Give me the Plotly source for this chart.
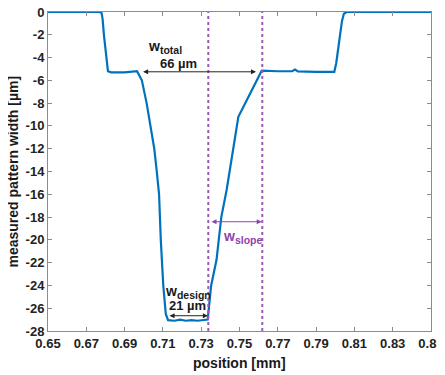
import plotly.graph_objects as go

# measured profile (position in mm, width in µm)
pos = [0.650, 0.677, 0.678, 0.6785, 0.6792, 0.6803, 0.6813, 0.683, 0.690, 0.6965,
       0.699, 0.7015, 0.7036, 0.7055, 0.7068, 0.708, 0.7089, 0.7102, 0.7115, 0.7127,
       0.716, 0.719, 0.722, 0.725, 0.728, 0.731, 0.7334,
       0.7352, 0.738, 0.7405, 0.7433, 0.7494, 0.7538, 0.7616,
       0.770, 0.7775, 0.779, 0.7805, 0.790, 0.7995, 0.8005, 0.802, 0.8035, 0.8045, 0.806, 0.850]
width = [0.0, 0.0, -0.1, -0.6, -2.0, -4.0, -5.2, -5.3, -5.3, -5.2,
         -6.0, -8.0, -10.0, -12.0, -14.0, -16.0, -20.0, -24.0, -26.5, -27.05,
         -27.1, -27.0, -27.1, -27.05, -27.1, -27.05, -27.0,
         -24.0, -21.75, -18.0, -15.6, -9.2, -7.7, -5.15,
         -5.2, -5.2, -5.05, -5.22, -5.25, -5.25, -4.5, -2.5, -0.8, -0.15, 0.0, 0.0]

x_ticks = [0.65, 0.67, 0.69, 0.71, 0.73, 0.75, 0.77, 0.79, 0.81, 0.83, 0.85]
y_ticks = list(range(0, -29, -2))

markers = [0.7337, 0.7619]          # purple dotted lines
total_span = [0.6989, 0.7586, -5.25]
design_span = [0.7127, 0.7335, -26.66]
slope_span = [0.7346, 0.7616, -18.41]

FONT = "Liberation Sans, Arial, sans-serif"
BLUE = "#0072BD"
PURPLE = "#8E44AD"
AX = "#8c8c8c"

fig = go.Figure()
fig.add_trace(go.Scatter(x=pos, y=width, mode="lines",
                         line=dict(color=BLUE, width=2.2), showlegend=False))

for m in markers:
    fig.add_shape(type="line", x0=m, x1=m, y0=-28, y1=0, xref="x", yref="y",
                  line=dict(color="#9b59b6", width=2, dash="dot"))

def dbl_arrow(x0, x1, y, color):
    fig.add_annotation(x=x1, y=y, ax=x0, ay=y, xref="x", yref="y", axref="x", ayref="y",
                       text="", showarrow=True, arrowhead=2, startarrowhead=2,
                       arrowside="end+start", arrowsize=1.0, startarrowsize=1.0,
                       arrowwidth=1, arrowcolor=color)

dbl_arrow(total_span[0], total_span[1], total_span[2], "#222222")
dbl_arrow(design_span[0], design_span[1], design_span[2], "#222222")
dbl_arrow(slope_span[0], slope_span[1], slope_span[2], PURPLE)

def label(x, y, text, color="#1a1a1a", size=13):
    fig.add_annotation(x=x, y=y, xref="x", yref="y", text=text, showarrow=False,
                       font=dict(family=FONT, size=size, color=color, weight="bold"),
                       xanchor="center", yanchor="middle")

def wsub(s):
    return f"w<sub><span style='font-size:10.5px'>{s}</span></sub>"

label(0.7111, -3.05, wsub("total"), size=14)
label(0.7179, -4.5, "66 µm")
label(0.7231, -24.55, wsub("design"), size=14)
label(0.7231, -25.75, "21 µm")
label(0.7518, -19.75, wsub("slope"), color=PURPLE, size=14)

# axis titles
fig.add_annotation(x=0.5, y=-0.1, xref="paper", yref="paper", text="position [mm]",
                   showarrow=False, yanchor="middle",
                   font=dict(family=FONT, size=14, color="#1a1a1a", weight="bold"))
fig.add_annotation(x=-0.0914, y=0.5, xref="paper", yref="paper", text="measured pattern width [µm]",
                   showarrow=False, textangle=-90, xanchor="center", yanchor="middle",
                   font=dict(family=FONT, size=14, color="#1a1a1a", weight="bold"))

axis_common = dict(showgrid=False, zeroline=False, showline=True, linecolor=AX, linewidth=1,
                   mirror="ticks", ticks="inside", ticklen=4, tickcolor=AX, tickwidth=1,
                   automargin=False, ticklabeloverflow="allow",
                   tickfont=dict(family=FONT, size=13, color="#222222", weight="bold"))

fig.update_xaxes(range=[0.65, 0.85], tickvals=x_ticks,
                 ticktext=[f"{t:.2f}" for t in x_ticks], **axis_common)
fig.update_yaxes(range=[-28, 0], tickvals=y_ticks,
                 ticktext=[str(t) for t in y_ticks], **axis_common)

# page adds an 8px body margin, so the figure is 437x367 and offset by 8px
fig.update_layout(width=437, height=367, margin=dict(l=40, r=14, t=4, b=44),
                  plot_bgcolor="white", paper_bgcolor="white", showlegend=False)

fig.write_html("out.html")
